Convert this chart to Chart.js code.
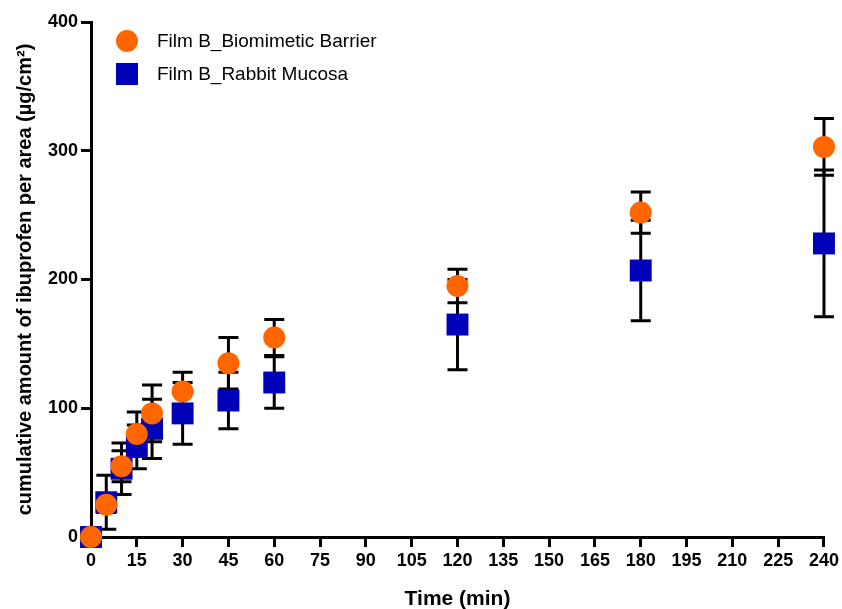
<!DOCTYPE html>
<html>
<head>
<meta charset="utf-8">
<script src="https://cdn.jsdelivr.net/npm/chart.js@4.4.1/dist/chart.umd.min.js"></script>
<style>
    html, body { margin: 0; padding: 0; background: #fff; }
    #wrap { width: 842px; height: 609px; }
</style>
</head>
<body>
<div id="wrap"><canvas id="releaseChart" width="842" height="609"></canvas></div>
<script>
// sampling times (min)
const timeMin = [0, 5, 10, 15, 20, 30, 45, 60, 120, 180, 240];

// cumulative ibuprofen per area (µg/cm²), mean and SD
const barrierMean = [0, 25, 55, 80, 96, 113, 135, 155, 195, 252, 303];
const barrierSd   = [0, 6, 12, 17, 22, 15, 20, 14, 13, 16, 22];
const mucosaMean  = [0, 27, 53, 70, 84, 96, 106, 120, 165, 207, 228];
const mucosaSd    = [0, 21, 20, 17, 23, 24, 22, 20, 35, 39, 57];

const seriesLabels = ['Film B_Biomimetic Barrier', 'Film B_Rabbit Mucosa'];
const xTicks = [0, 15, 30, 45, 60, 75, 90, 105, 120, 135, 150, 165, 180, 195, 210, 225, 240];
const yTicks = [0, 100, 200, 300, 400];

const ORANGE = '#ff6600';
const BLUE = '#0000b8';
const FONT = 'Liberation Sans, Arial, Helvetica, sans-serif';

function toPoints(xs, ys, sds) {
    return xs.map((x, i) => ({ x: x, y: ys[i], sd: sds[i] }));
}

// error bars with caps, drawn under the markers
const errorBars = {
    id: 'errorBars',
    beforeDatasetsDraw(chart) {
        const ctx = chart.ctx;
        const xs = chart.scales.x, ys = chart.scales.y;
        ctx.save();
        ctx.strokeStyle = '#000';
        ctx.lineWidth = 3;
        chart.data.datasets.forEach(ds => {
            ds.data.forEach(p => {
                if (!p.sd) return;
                const px = xs.getPixelForValue(p.x);
                const top = ys.getPixelForValue(p.y + p.sd);
                const bot = ys.getPixelForValue(p.y - p.sd);
                ctx.beginPath();
                ctx.moveTo(px, top); ctx.lineTo(px, bot);
                ctx.moveTo(px - 10, top); ctx.lineTo(px + 10, top);
                ctx.moveTo(px - 10, bot); ctx.lineTo(px + 10, bot);
                ctx.stroke();
            });
        });
        ctx.restore();
    }
};

// legend inside the plot, top-left
const insideLegend = {
    id: 'insideLegend',
    afterDraw(chart) {
        const ctx = chart.ctx;
        ctx.save();
        ctx.font = '19px ' + FONT;
        ctx.textBaseline = 'middle';
        chart.data.datasets.forEach((ds, i) => {
            const cx = 127, cy = 41 + i * 33;
            ctx.fillStyle = ds.backgroundColor;
            ctx.beginPath();
            if (ds.pointStyle === 'circle') {
                ctx.arc(cx, cy, 11, 0, Math.PI * 2);
            } else {
                ctx.rect(cx - 11, cy - 11, 22, 22);
            }
            ctx.fill();
            ctx.fillStyle = '#000';
            ctx.fillText(ds.label, 157, cy + 1);
        });
        ctx.restore();
    }
};

new Chart(document.getElementById('releaseChart'), {
    type: 'scatter',
    data: {
        datasets: [
            {
                label: seriesLabels[0],
                data: toPoints(timeMin, barrierMean, barrierSd),
                backgroundColor: ORANGE,
                borderColor: ORANGE,
                borderWidth: 0,
                pointStyle: 'circle',
                pointRadius: 11,
                clip: false
            },
            {
                label: seriesLabels[1],
                data: toPoints(timeMin, mucosaMean, mucosaSd),
                backgroundColor: BLUE,
                borderColor: BLUE,
                borderWidth: 0,
                pointStyle: 'rect',
                pointRadius: 15.5,
                clip: false
            }
        ]
    },
    options: {
        responsive: false,
        animation: false,
        layout: { padding: { left: 0, right: 15, top: 22, bottom: 0 } },
        plugins: {
            legend: { display: false },
            tooltip: { enabled: false }
        },
        scales: {
            x: {
                type: 'linear',
                min: 0,
                max: 240,
                afterBuildTicks: scale => { scale.ticks = xTicks.map(v => ({ value: v })); },
                afterFit: scale => { scale.height = 72; },
                ticks: {
                    color: '#000',
                    padding: 3,
                    maxRotation: 0,
                    autoSkip: false,
                    font: { family: FONT, size: 18, weight: 'bold' }
                },
                grid: { drawOnChartArea: false, color: '#000', lineWidth: 3, tickLength: 10 },
                border: { color: '#000', width: 3 },
                title: {
                    display: true,
                    text: 'Time (min)',
                    color: '#000',
                    padding: { top: 0, bottom: -3 },
                    font: { family: FONT, size: 21, weight: 'bold' }
                }
            },
            y: {
                type: 'linear',
                min: 0,
                max: 400,
                afterBuildTicks: scale => { scale.ticks = yTicks.map(v => ({ value: v })); },
                afterFit: scale => { scale.width = 91; },
                ticks: {
                    color: '#000',
                    padding: 3,
                    font: { family: FONT, size: 18, weight: 'bold' }
                },
                grid: { drawOnChartArea: false, color: '#000', lineWidth: 3, tickLength: 10 },
                border: { color: '#000', width: 3 },
                title: {
                    display: true,
                    text: 'cumulative amount of ibuprofen per area (µg/cm²)',
                    color: '#000',
                    padding: { top: 13, bottom: 0 },
                    font: { family: FONT, size: 20, weight: 'bold' }
                }
            }
        }
    },
    plugins: [errorBars, insideLegend]
});
</script>
</body>
</html>
